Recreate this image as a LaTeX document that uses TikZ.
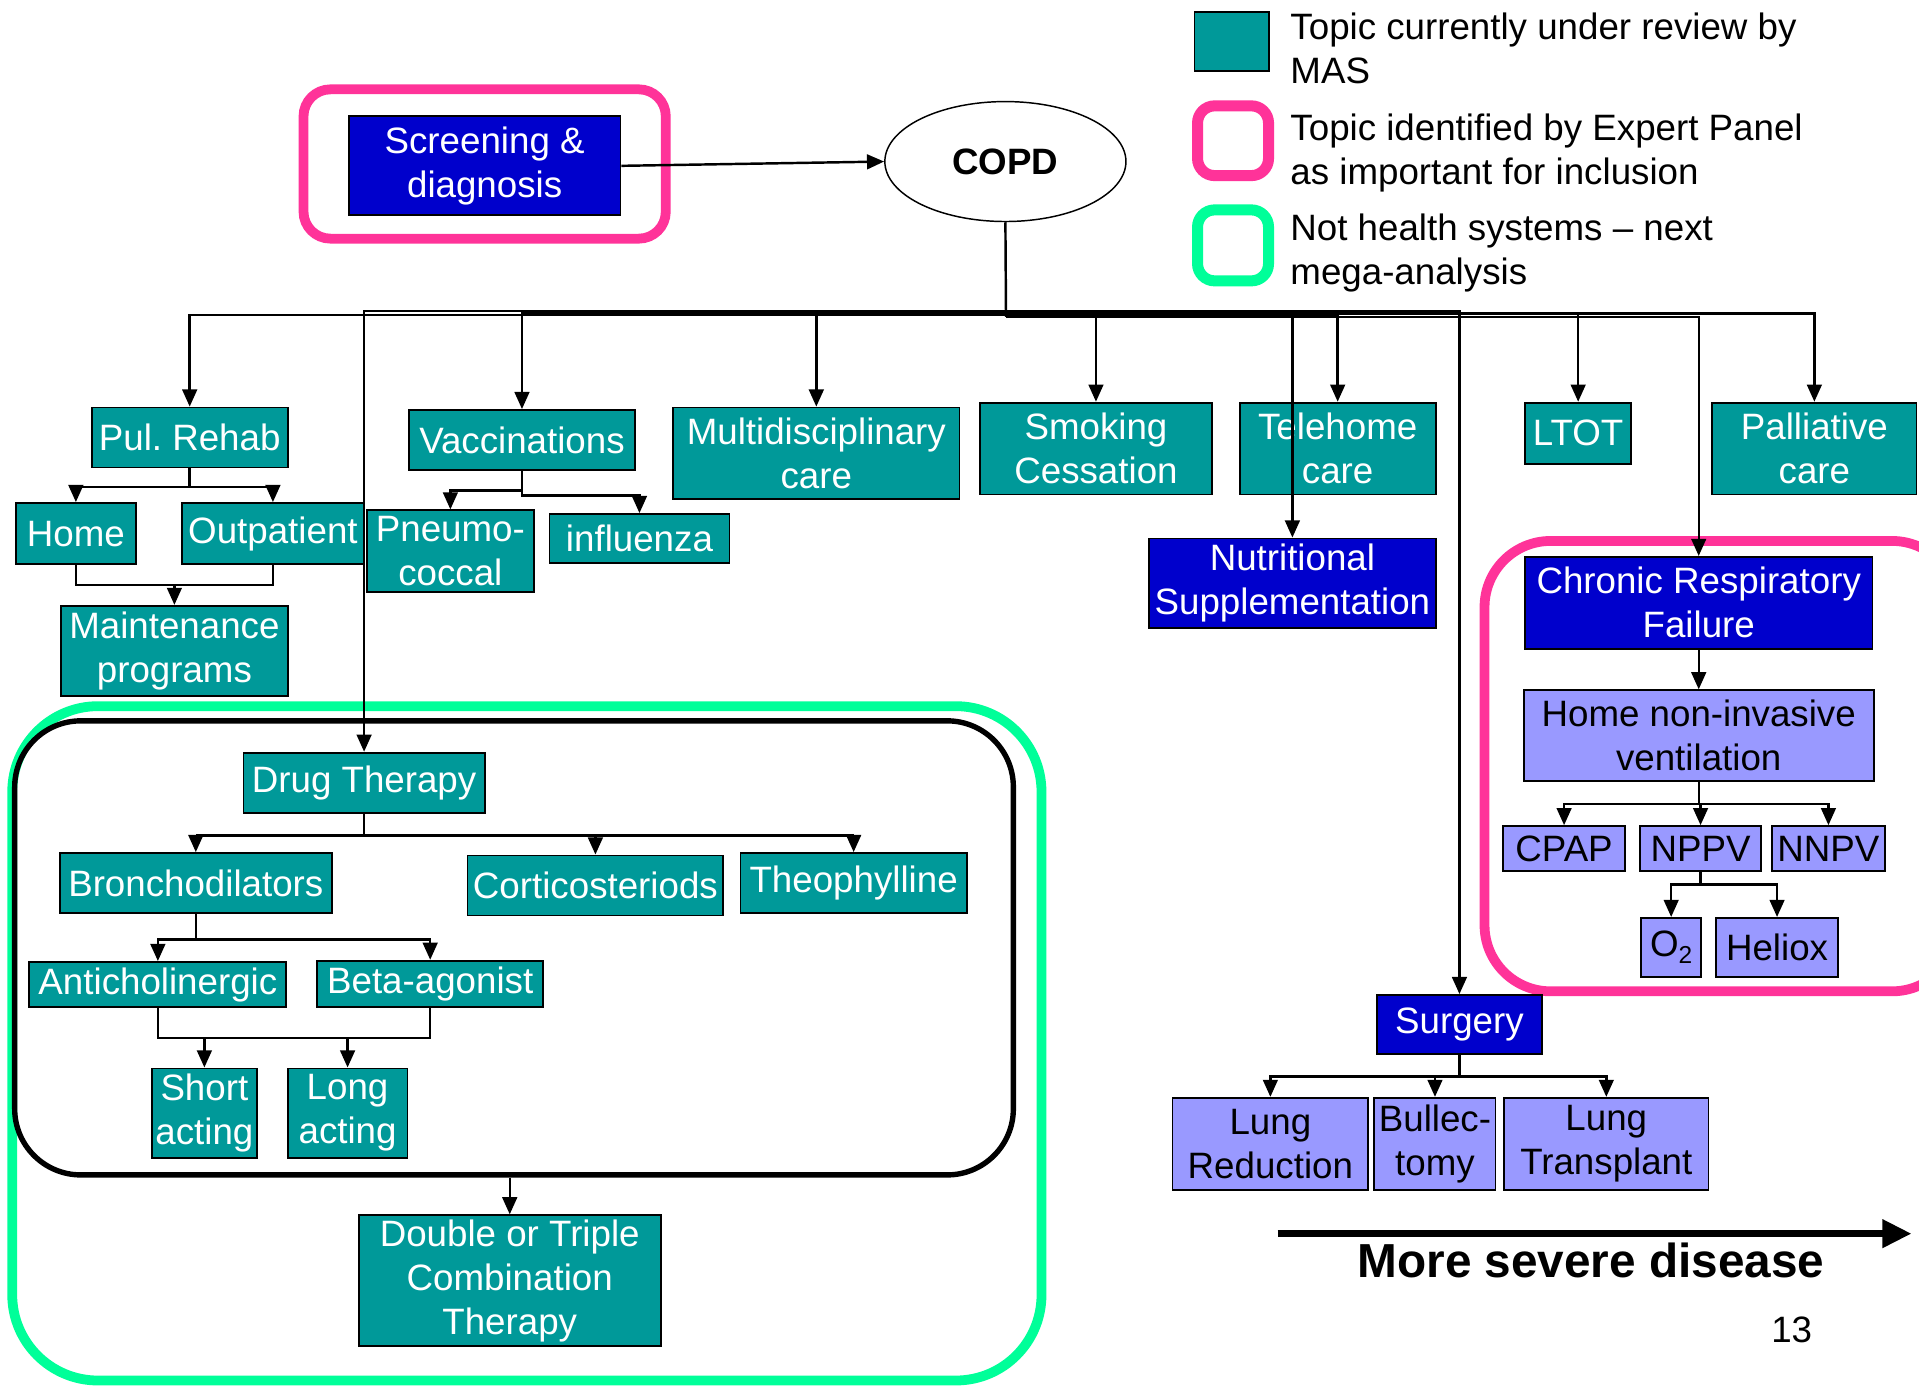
\documentclass[tikz,border=0pt]{standalone}
\usepackage{fontspec}
\setmainfont{Liberation Sans}
\usetikzlibrary{arrows.meta,shapes.geometric}
\definecolor{tealc}{HTML}{009999}
\definecolor{bluec}{HTML}{0000CC}
\definecolor{purplec}{HTML}{9999FF}
\definecolor{pinkc}{HTML}{FF3399}
\definecolor{greenc}{HTML}{00FF99}
\frenchspacing
\newcommand\boxfont{\fontsize{15}{18}\selectfont}
\newcommand\mybox[7]{\node[#2, minimum width={(#5-#3)*0.5pt}, minimum height={(#6-#4)*0.5pt}] (#1) at ({(#3+#5)/2},{(#4+#6)/2}) {#7};}
\tikzset{
  basebox/.style={draw=black, line width=0.75pt, inner sep=0pt, align=center, font=\boxfont},
  tbox/.style={basebox, fill=tealc, text=white},
  bbox/.style={basebox, fill=bluec, text=white},
  pbox/.style={basebox, fill=purplec, text=black},
  hlpink/.style={draw=pinkc, line width=4pt, inner sep=0pt},
  hlgreen/.style={draw=greenc, line width=4pt, inner sep=0pt},
  hlblack/.style={draw=black, line width=2.2pt, inner sep=0pt},
  conn/.style={line width=1pt},
  arr/.style={conn, -{Triangle[length=7pt,width=6pt]}},
  legtext/.style={anchor=west, align=left, inner sep=0pt, font=\boxfont}
}
\begin{document}
\begin{tikzpicture}[x=0.5pt,y=-0.5pt]
\useasboundingbox (0,0) rectangle (1568,1134);
\clip (0,0) rectangle (1568,1134);
\fill[white] (0,0) rectangle (1568,1134);

% highlight frames
\mybox{greenbox}{hlgreen, rounded corners=35pt}{10}{577}{851}{1128}{}
\mybox{drugbox}{hlblack, rounded corners=27pt}{12}{589}{828}{960}{}
\mybox{screenhl}{hlpink, rounded corners=11pt}{248}{73}{544}{195}{}
\mybox{crfhl}{hlpink, rounded corners=27pt}{1213}{442}{1600}{810}{}

% legend
\mybox{legA}{basebox, fill=tealc}{976}{10}{1037}{58}{}
\mybox{legB}{hlpink, line width=4.5pt, rounded corners=7pt}{978.5}{86.5}{1036.5}{143.5}{}
\mybox{legC}{hlgreen, line width=4.5pt, rounded corners=7pt}{978.5}{171.5}{1036.5}{229.5}{}
\node[legtext] (legtA) at (1054,39.5) {Topic currently under review by\\MAS};
\node[legtext] (legtB) at (1054,125) {Topic identified by Expert Panel\\as important for inclusion};
\node[legtext] (legtC) at (1054,206.5) {Not health systems – next\\mega-analysis};

% top
\mybox{screen}{bbox}{285}{95}{507}{176}{Screening \&\\diagnosis}
\node[ellipse, draw=black, line width=0.6pt, fill=white, minimum width=98.5pt, minimum height=49pt, inner sep=0pt, font=\boxfont\bfseries] (copd) at (821.5,132) {COPD};

% first level
\mybox{pul}{tbox}{75}{333}{235}{382}{Pul. Rehab}
\mybox{home}{tbox}{13}{411}{111}{461}{Home}
\mybox{outp}{tbox}{149}{411}{297}{461}{Outpatient}
\mybox{maint}{tbox}{50}{495}{235}{569}{Maintenance\\programs}
\mybox{vacc}{tbox}{334}{335}{519}{384}{Vaccinations}
\mybox{pneu}{tbox}{300}{417}{436}{484}{Pneumo-\\coccal}
\mybox{infl}{tbox}{449}{420}{596}{460}{influenza}
\mybox{multi}{tbox}{550}{333}{784}{408}{Multidisciplinary\\care}
\mybox{smok}{tbox}{801}{329}{990}{404}{Smoking\\Cessation}
\mybox{tele}{tbox}{1013}{329}{1173}{404}{Telehome\\care}
\mybox{nutr}{bbox}{939}{440}{1173}{513}{Nutritional\\Supplementation}
\mybox{ltot}{tbox}{1246}{329}{1333}{379}{LTOT}
\mybox{pall}{tbox}{1399}{329}{1566}{404}{Palliative\\care}

% chronic respiratory failure
\mybox{crf}{bbox}{1246}{455}{1530}{530}{Chronic Respiratory\\Failure}
\mybox{niv}{pbox}{1245}{564}{1531}{638}{Home non-invasive\\ventilation}
\mybox{cpap}{pbox}{1228}{675}{1328}{712}{CPAP}
\mybox{nppv}{pbox}{1340}{675}{1439}{712}{NPPV}
\mybox{nnpv}{pbox}{1448}{675}{1540}{712}{NNPV}
\mybox{otwo}{pbox}{1341}{750}{1390}{798}{O\raisebox{-0.35ex}{\fontsize{10}{10}\selectfont 2}}
\mybox{heliox}{pbox}{1402}{750}{1502}{798}{Heliox}

% surgery
\mybox{surg}{bbox}{1125}{813}{1260}{861}{Surgery}
\mybox{lred}{pbox}{958}{897}{1118}{972}{Lung\\Reduction}
\mybox{bull}{pbox}{1123}{897}{1222}{972}{Bullec-\\tomy}
\mybox{ltx}{pbox}{1229}{897}{1396}{972}{Lung\\Transplant}

% drug therapy
\mybox{drug}{tbox}{199}{615}{396}{664}{Drug Therapy}
\mybox{bron}{tbox}{49}{697}{271}{746}{Bronchodilators}
\mybox{cort}{tbox}{382}{699}{591}{748}{Corticosteriods}
\mybox{theo}{tbox}{605}{697}{790}{746}{Theophylline}
\mybox{anti}{tbox}{24}{786}{234}{823}{Anticholinergic}
\mybox{beta}{tbox}{259}{785}{444}{823}{Beta-agonist}
\mybox{short}{tbox}{124}{873}{210}{946}{Short\\acting}
\mybox{long}{tbox}{235}{873}{333}{946}{Long\\acting}
\mybox{combo}{tbox}{293}{993}{540}{1100}{Double or Triple\\Combination\\Therapy}

% connectors
\draw[arr] (screen.east) -- (copd.west);
\coordinate (busA) at (822,254);
\coordinate (busB) at (822,256);
\coordinate (busC) at (822,257.5);
\coordinate (busD) at (822,259);
\draw[conn] (copd.south) -- (busD);
\draw[arr] (busC) -| (pul.north);
\draw[arr] (busA) -| (drug.north);
\draw[arr] (busB) -| (vacc.north);
\draw[arr] (busB) -| (multi.north);
\draw[arr] (busB) -| (smok.north);
\draw[arr] (busC) -| (nutr.north);
\draw[arr] (busC) -| (tele.north);
\draw[arr] (busA) -| (surg.north);
\draw[arr] (busB) -| (ltot.north);
\draw[arr] (busD) -| (crf.north);
\draw[arr] (busB) -| (pall.north);

\draw[arr] (pul.south) -- ++(0,15) -| (home.north);
\draw[arr] (pul.south) -- ++(0,15) -| (outp.north);
\coordinate (mj) at (142.5,478);
\draw[conn] (home.south) |- (mj) -| (outp.south);
\draw[arr] (mj) -- (maint.north);

\draw[arr] (vacc.south) -- ++(0,16) -| (pneu.north);
\draw[arr] (vacc.south) -- ++(0,20) -| (infl.north);

\draw[arr] (drug.south) -- ++(0,18) -| (bron.north);
\draw[arr] (drug.south) -- ++(0,18) -| (cort.north);
\draw[arr] (drug.south) -- ++(0,18) -| (theo.north);
\draw[arr] (bron.south) -- ++(0,21) -| (anti.north);
\draw[arr] (bron.south) -- ++(0,21) -| (beta.north);
\coordinate (sj) at (240,848);
\draw[conn] (anti.south) |- (sj) -| (beta.south);
\draw[arr] (short.north |- sj) -- (short.north);
\draw[arr] (long.north |- sj) -- (long.north);
\draw[arr] (combo.north |- drugbox.south) -- (combo.north);

\draw[arr] (crf.south) -- (niv.north);
\draw[arr] (niv.south) -- ++(0,18) -| (cpap.north);
\draw[arr] (niv.south) -- ++(0,18) -| (nppv.north);
\draw[arr] (niv.south) -- ++(0,18) -| (nnpv.north);
\draw[arr] (nppv.south) -- ++(0,10) -| (otwo.north);
\draw[arr] (nppv.south) -- ++(0,10) -| (heliox.north);

\draw[arr] (surg.south) -- ++(0,18) -| (lred.north);
\draw[arr] (surg.south) -- ++(0,18) -| (bull.north);
\draw[arr] (surg.south) -- ++(0,18) -| (ltx.north);

% severity
\coordinate (sevA) at (1044,1008);
\coordinate (sevB) at (1562,1008);
\draw[line width=3pt, -{Triangle[length=12pt,width=11pt]}] (sevA) -- (sevB);
\node[inner sep=0pt, font=\fontsize{19.5}{22}\selectfont\bfseries] (sevtext) at (1300,1030) {More severe disease};
\node[inner sep=0pt, font=\boxfont] (pagenum) at (1464,1087) {13};
\end{tikzpicture}
\end{document}
